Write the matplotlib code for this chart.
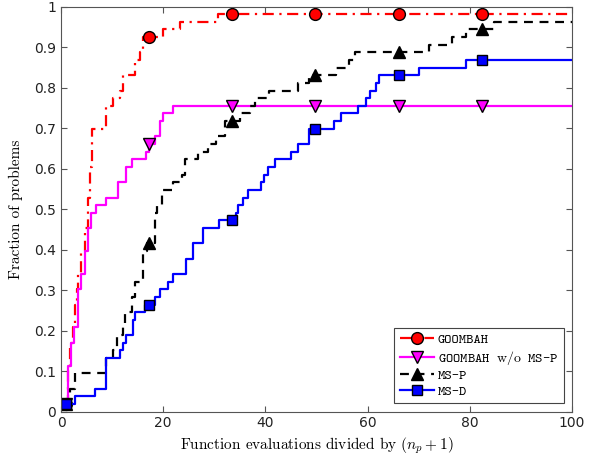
import numpy as np
import matplotlib
matplotlib.use('Agg')
import matplotlib.pyplot as plt
from matplotlib.lines import Line2D

plt.rcParams['mathtext.fontset'] = 'cm'

n_problems = 53

# step breakpoints (x) and number of problems solved from that x on
goombah_x = [1, 1.4, 1.8, 2.3, 2.7, 3.1, 3.4, 4.0, 4.7, 5.2, 5.6, 6.1, 8.9, 10.2,
             11.5, 12.2, 14.5, 15.4, 16.1, 20.0, 23.2, 30.7]
goombah_n = [1, 6, 9, 11, 14, 16, 18, 21, 24, 28, 32, 37, 40, 41,
             42, 44, 46, 47, 49, 50, 51, 52]

nomsp_x = [1, 1.4, 2.0, 2.6, 3.4, 4.0, 4.7, 5.2, 5.8, 6.8, 8.9, 11.2, 12.8, 13.8,
           16.7, 17.2, 18.4, 19.3, 20.0, 21.9]
nomsp_n = [1, 6, 9, 11, 16, 18, 21, 24, 26, 27, 28, 30, 32, 33,
           34, 35, 36, 38, 39, 40]

msp_x = [1, 1.8, 2.7, 8.9, 10.2, 10.9, 12.2, 12.6, 13.8, 14.5, 16.1, 16.8, 18.4,
         18.7, 19.7, 21.9, 23.6, 24.2, 26.8, 28.8, 30.4, 32.0, 35.0, 36.9, 37.9,
         40.8, 46.3, 48.6, 53.8, 56.4, 57.5, 72.0, 76.6, 79.2, 84.8]
msp_n = [1, 3, 5, 7, 8, 10, 11, 13, 15, 17, 21, 22, 26,
         27, 29, 30, 31, 33, 34, 35, 36, 38, 39, 40, 41,
         42, 43, 44, 45, 46, 47, 48, 49, 50, 51]

msd_x = [1, 2.7, 6.6, 8.9, 11.5, 12.2, 12.8, 14.1, 14.5, 16.5, 18.4, 19.3, 21.0,
         21.9, 24.5, 25.8, 27.8, 31.0, 34.3, 34.6, 35.6, 36.6, 39.2, 39.8, 40.5,
         41.8, 45.1, 46.3, 48.6, 53.5, 54.8, 58.1, 59.7, 60.4, 61.7, 62.3, 70.1, 79.2]
msd_n = [1, 2, 3, 7, 8, 9, 10, 12, 13, 14, 15, 16, 17,
         18, 20, 22, 24, 25, 26, 27, 28, 29, 30, 31, 32,
         33, 34, 35, 37, 38, 39, 40, 41, 42, 43, 44, 45, 46]

marker_x = np.array([1, 17.2, 33.5, 49.8, 66.1, 82.4])
x_max = 100

series = [
    ('GOOMBAH', goombah_x, goombah_n, '#ff0000', (0, (5, 2.5, 1, 2.5)), 'o', 8.5),
    (r'GOOMBAH $\mathrm{w/o}$ MS-P', nomsp_x, nomsp_n, '#ff00ff', '-', 'v', 9),
    ('MS-P', msp_x, msp_n, 'black', (0, (4, 3)), '^', 9),
    ('MS-D', msd_x, msd_n, '#0000ff', '-', 's', 7),
]

fig = plt.figure(figsize=(5.9, 4.65), dpi=100)
ax = fig.add_axes([0.1034, 0.115, 0.866, 0.871])

handles = []
for label, xs, ns, color, ls, mk, ms in series:
    xs = np.array(xs + [x_max], dtype=float)
    ys = np.array(ns + [ns[-1]], dtype=float) / n_problems
    ax.step(xs, ys, where='post', color=color, lw=1.6, linestyle=ls)
    idx = np.searchsorted(xs, marker_x, side='right') - 1
    ax.plot(marker_x, ys[idx], linestyle='none', marker=mk, markersize=ms,
            markerfacecolor=color, markeredgecolor='black', markeredgewidth=1.0)
    handles.append(Line2D([], [], color=color, lw=1.6, linestyle=ls, marker=mk,
                          markersize=ms, markerfacecolor=color,
                          markeredgecolor='black', label=label))

ax.set_xlim(0, 100)
ax.set_ylim(0, 1)
ax.set_xticks(np.arange(0, 101, 20))
ax.set_yticks(np.arange(0, 1.01, 0.1))
ax.set_yticklabels(['%g' % round(v, 1) for v in np.arange(0, 1.01, 0.1)])
ax.tick_params(direction='in', top=True, right=True, labelsize=10,
               length=4, color='#555555', labelcolor='#222222')
for sp in ax.spines.values():
    sp.set_color('#555555')
    sp.set_linewidth(0.8)

ax.set_xlabel(r'Function evaluations divided by $(n_p+1)$', family='cmr10',
              fontsize=11, labelpad=4)
ax.set_ylabel('Fraction of problems', family='cmr10', fontsize=11, labelpad=8)

leg = ax.legend(handles=handles, loc='lower right', numpoints=1,
                prop={'family': 'cmtt10', 'size': 10}, handlelength=2.5,
                fancybox=False, framealpha=1, edgecolor='#444444',
                borderaxespad=0.6, labelspacing=0.2, handletextpad=0.25,
                borderpad=0.4)
leg.get_frame().set_linewidth(0.8)

fig.savefig('out.png', dpi=100)
